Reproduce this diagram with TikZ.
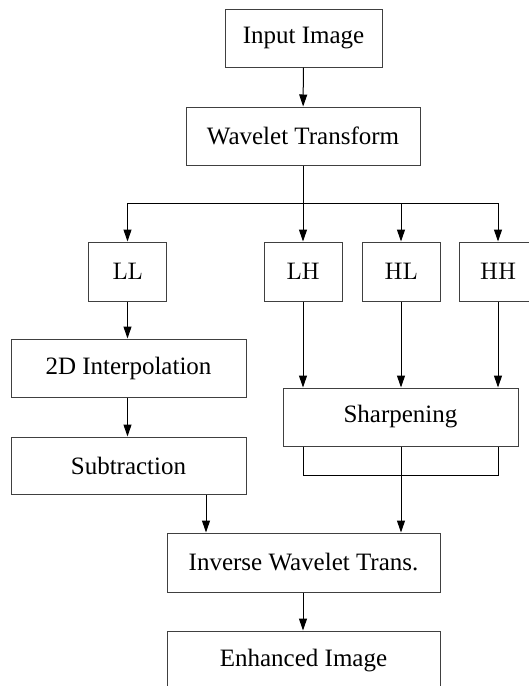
\documentclass[tikz,border=0pt]{standalone}
\usepackage{fontspec}
\newfontfamily\tnr{Liberation Serif}
\newfontfamily\lmten[Extension=.otf]{lmroman10-regular}
\usetikzlibrary{arrows.meta}
\begin{document}
\begin{tikzpicture}[x=1pt,y=-1pt,
  box/.style={draw=black!75, line width=1pt, minimum height=58pt, inner sep=0pt,
              font=\tnr\fontsize{25}{29}\selectfont},
  band/.style={draw=black!75, line width=1pt, minimum width=78pt, minimum height=59pt,
               inner sep=0pt, font=\lmten\fontsize{24}{28}\selectfont},
  link/.style={line width=1pt, -{Triangle[length=12pt,width=8pt]}},
  wire/.style={line width=1pt}]
\useasboundingbox (0,0) rectangle (529,686);

% main chain
\node[box, minimum width=157pt] (in)  at (303.5,38)  {Input Image};
\node[box, minimum width=234pt] (wt)  at (303,136)   {Wavelet Transform};

% sub-bands
\node[band] (LL) at (127.5,271.5) {LL};
\node[band] (LH) at (303,271.5)   {LH};
\node[band] (HL) at (401,271.5)   {HL};
\node[band] (HH) at (498,271.5)   {HH};

% low-frequency path
\node[box, minimum width=235pt] (ip)  at (128.5,368)   {2D Interpolation};
\node[box, minimum width=235pt, minimum height=57pt] (sub) at (128.5,465.5) {Subtraction};

% high-frequency path
\node[box, minimum width=235pt] (sh)  at (400.5,417) {Sharpening};

% reconstruction
\node[box, minimum width=273pt, minimum height=59pt] (inv) at (303.5,562.5) {Inverse Wavelet Trans.};
\node[box, minimum width=273pt, minimum height=59pt] (enh) at (303.5,660.5) {Enhanced Image};

\draw[link] (in) -- (wt);

% split into the four sub-bands
\coordinate (split) at (303,203);
\draw[link] (wt) -- (LH);
\draw[link] (split) -| (LL);
\draw[link] (split) -| (HH);
\draw[link] (HL.north |- split) -- (HL);

\draw[link] (LL) -- (LL |- ip.north);
\draw[link] (ip.south -| LL) -- (sub.north -| LL);

\draw[link] (LH) -- (LH |- sh.north);
\draw[link] (HL) -- (HL |- sh.north);
\draw[link] (HH) -- (HH |- sh.north);

% bracket under sharpening
\coordinate (br) at (0,475);
\draw[wire] (sh.south -| LH) -- (br -| LH) -- (br -| HH) -- (sh.south -| HH);
\draw[link] (sh.south -| HL) -- (inv.north -| HL);

\coordinate (subout) at (206,0);
\draw[link] (sub.south -| subout) -- (inv.north -| subout);

\draw[link] (inv.south -| wt) -- (enh.north -| wt);
\end{tikzpicture}
\end{document}
